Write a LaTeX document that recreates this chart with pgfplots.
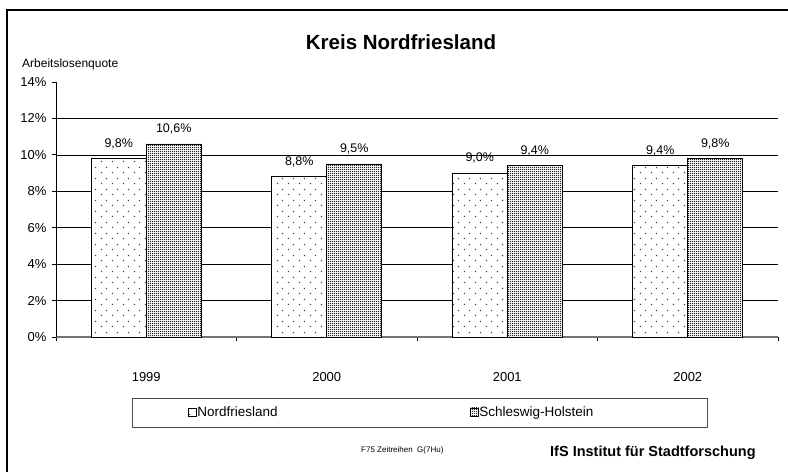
\documentclass[border=0pt]{standalone}
\usepackage{fontspec}
\setmainfont{Liberation Sans}
\usepackage{pgfplots}
\pgfplotsset{compat=1.18}
\usetikzlibrary{patterns.meta}

\tikzdeclarepattern{name=sparsedots, type=uncolored,
  bottom left={(0pt,0pt)}, top right={(11bp,11bp)}, tile size={(11bp,11bp)},
  code={\fill (2bp,2bp) rectangle (3.3bp,3.3bp); \fill (7.5bp,7.5bp) rectangle (8.8bp,8.8bp);}}
\tikzdeclarepattern{name=densedots, type=uncolored,
  bottom left={(0pt,0pt)}, top right={(2bp,2bp)}, tile size={(2bp,2bp)},
  code={\fill (0bp,0bp) rectangle (1.5bp,1.5bp);}}

\pgfplotsset{sqlegend/.style={legend image code/.code={\draw[##1] (0bp,-4bp) rectangle (8bp,4bp);}}}

\pgfplotstableread{
x NF SH
0 9.8 10.6
1 8.8 9.5
2 9.0 9.4
3 9.4 9.8
}\datatable

\begin{document}
\begin{tikzpicture}
\path[use as bounding box] (0,0) rectangle (788bp,-472bp);
\draw[line width=2.5bp] (7bp,-472bp) -- (7bp,-10bp) -- (790bp,-10bp);

\begin{axis}[
  at={(56bp,-337bp)}, anchor=south west,
  scale only axis, width=722bp, height=255bp,
  xmin=-0.5, xmax=3.5, ymin=0, ymax=14,
  ybar=0pt, bar width=55bp,
  axis x line*=bottom, axis y line*=left,
  x axis line style={black!55, line width=1.5bp},
  y axis line style={black, line width=0.8bp},
  xtick={0,1,2,3}, xticklabels={1999,2000,2001,2002},
  major x tick style={draw=none},
  minor xtick={-0.5,0.5,1.5,2.5,3.5},
  minor x tick style={black, line width=0.8bp},
  tick align=outside, major tick length=4bp, minor tick length=4bp,
  ytick={0,2,...,12}, extra y ticks={14},
  extra y tick style={grid=none},
  y tick style={black, line width=0.8bp},
  yticklabel={\pgfmathprintnumber{\tick}\%},
  extra y tick labels={14\%},
  ymajorgrids, major grid style={black, line width=0.6bp},
  /pgf/number format/assume math mode=true,
  ticklabel style={font=\fontsize{13bp}{15bp}\selectfont},
  yticklabel style={xshift=-2bp},
  xticklabel style={yshift=-28bp},
  nodes near coords={\pgfmathprintnumber[fixed,fixed zerofill,precision=1,use comma]{\pgfplotspointmeta}\%},
  every node near coord/.append style={font=\fontsize{12.5bp}{14bp}\selectfont, yshift=6bp},
  legend style={at={(axis description cs:0.1828,-0.294)}, anchor=west,
    draw=none, fill=none, inner sep=0pt, legend columns=2,
    nodes={inner sep=0.5bp},
    font=\fontsize{13.5bp}{15bp}\selectfont,
    /tikz/every even column/.append style={column sep=192bp}},
]
\addplot[fill=white, draw=black, line width=0.7bp, postaction={pattern=sparsedots, pattern color=black!75}, sqlegend]
  table[x=x, y=NF] {\datatable};
\addplot[fill=white, draw=black, line width=0.7bp, postaction={pattern=densedots, pattern color=black!85}, sqlegend]
  table[x=x, y=SH] {\datatable};
\legend{Nordfriesland, Schleswig-Holstein}
\end{axis}

\draw[black!70, line width=0.8bp] (132bp,-398bp) rectangle (707bp,-427bp);
\node[font=\bfseries\fontsize{20.5bp}{24bp}\selectfont, anchor=base, inner sep=0] at (401bp,-49bp) {Kreis Nordfriesland};
\node[font=\fontsize{12bp}{14bp}\selectfont, anchor=base west, inner sep=0] at (22bp,-67bp) {Arbeitslosenquote};
\node[font=\fontsize{8bp}{9bp}\selectfont, anchor=base west, inner sep=0] at (361bp,-452bp) {F75 Zeitreihen\ \ G(7Hu)};
\node[font=\bfseries\fontsize{14.5bp}{16bp}\selectfont, anchor=base west, inner sep=0] at (550bp,-456bp) {IfS Institut für Stadtforschung};
\end{tikzpicture}
\end{document}
